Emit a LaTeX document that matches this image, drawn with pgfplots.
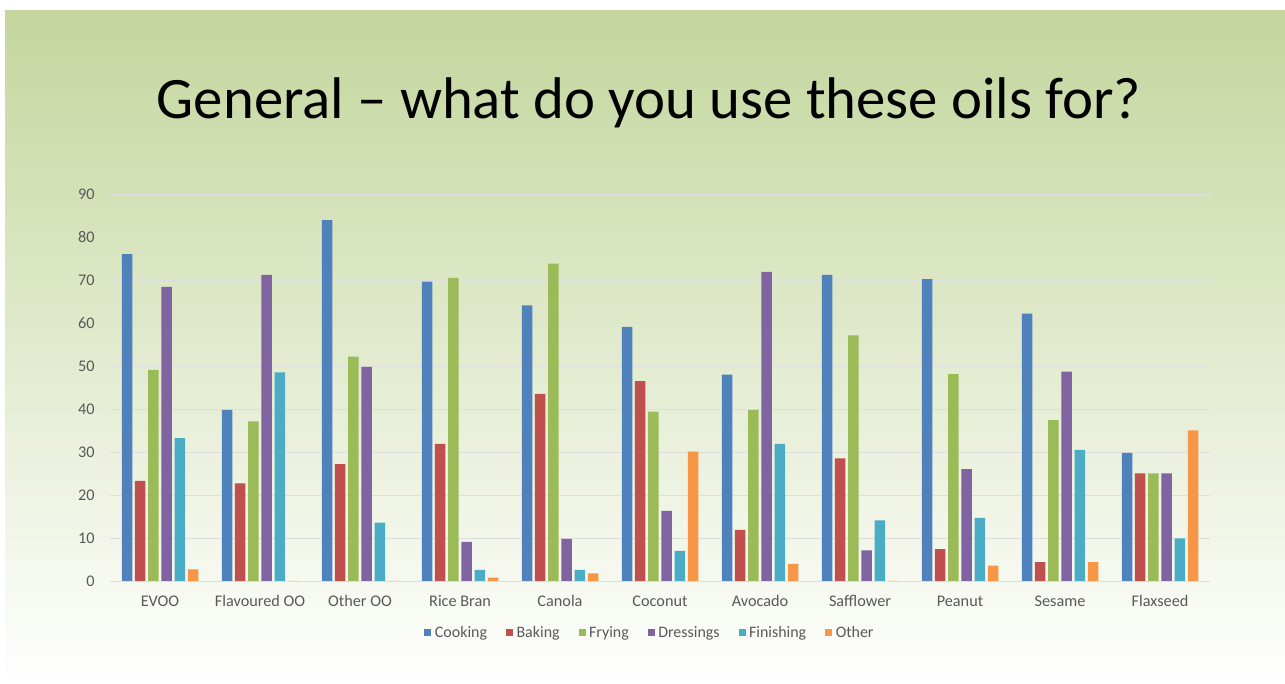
\documentclass[border=0pt]{standalone}
\usepackage{pgfplots}
\pgfplotsset{compat=1.18}
\usepackage{pgfplotstable}
\usepackage{fontspec}
\setmainfont{Carlito}
\definecolor{cCook}{HTML}{4F81BD}
\definecolor{cBake}{HTML}{C0504D}
\definecolor{cFry}{HTML}{9BBB59}
\definecolor{cDress}{HTML}{8064A2}
\definecolor{cFin}{HTML}{4BACC6}
\definecolor{cOther}{HTML}{F79646}
\definecolor{bgTop}{HTML}{C4D69D}
\definecolor{bgMid}{HTML}{E0E9CD}
\definecolor{txtgray}{HTML}{595959}
\pgfplotstableread{
x Cooking Baking Frying Dressings Finishing Other
0 76.0 23.3 49.1 68.4 33.2 2.7
1 39.8 22.7 37.1 71.2 48.5 0
2 83.9 27.2 52.2 49.8 13.6 0
3 69.6 31.9 70.5 9.1 2.6 0.8
4 64.1 43.5 73.8 9.8 2.6 1.8
5 59.1 46.5 39.4 16.3 7.0 30.1
6 48.0 11.9 39.8 71.9 31.9 4.0
7 71.2 28.5 57.1 7.1 14.1 0
8 70.2 7.4 48.1 26.0 14.7 3.6
9 62.2 4.4 37.4 48.7 30.5 4.4
10 29.8 25.0 25.0 25.0 9.9 35.0
}\data
\begin{document}
\begin{tikzpicture}[x=1bp,y=1bp]
\path[use as bounding box] (0,0) rectangle (1285,684);
\fill[white] (0,0) rectangle (1285,684);
\shade[top color=bgTop, middle color=bgMid, bottom color=white] (5,0) rectangle (1285,673);
\node[anchor=base, font=\fontsize{59}{66}\selectfont, text=black] at (649,565) {General – what do you use these oils for?};
\begin{axis}[
  at={(110bp,103bp)}, anchor=south west,
  scale only axis, width=1100bp, height=387bp,
  xmin=-0.5, xmax=10.5, ymin=0, ymax=90,
  ybar=2.7bp, bar width=10.5bp,
  axis line style={draw=none},
  ymajorgrids, grid style={draw=black!13, line width=0.8bp},
  ytick={0,10,...,90},
  xtick=data,
  xticklabels={EVOO,Flavoured OO,Other OO,Rice Bran,Canola,Coconut,Avocado,Safflower,Peanut,Sesame,Flaxseed},
  major tick length=0,
  /pgf/number format/assume math mode=true,
  tick label style={font=\fontsize{16.3}{19}\selectfont, text=txtgray},
  yticklabel style={xshift=-12bp},
  xticklabel style={anchor=base, yshift=-25.5bp},
  legend style={at={(0.4909,-0.134)}, anchor=center, draw=none, fill=none,
    legend columns=6, font=\fontsize{16}{19}\selectfont, text=txtgray,
    /tikz/every odd column/.append style={column sep=1.5bp},
    /tikz/every even column/.append style={column sep=17bp}},
  legend image code/.code={\fill[#1] (0bp,-3.5bp) rectangle (7bp,3.5bp);},
  legend cell align=left,
  clip=false,
]
\addplot[fill=cCook, draw=none] table[x=x,y=Cooking]{\data};
\addplot[fill=cBake, draw=none] table[x=x,y=Baking]{\data};
\addplot[fill=cFry, draw=none] table[x=x,y=Frying]{\data};
\addplot[fill=cDress, draw=none] table[x=x,y=Dressings]{\data};
\addplot[fill=cFin, draw=none] table[x=x,y=Finishing]{\data};
\addplot[fill=cOther, draw=none] table[x=x,y=Other]{\data};
\legend{Cooking,Baking,Frying,Dressings,Finishing,Other}
\end{axis}
\end{tikzpicture}
\end{document}
